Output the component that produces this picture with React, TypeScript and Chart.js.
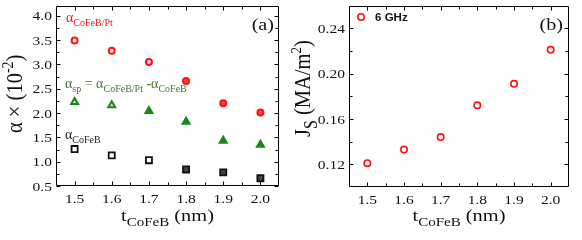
import React, { useEffect, useRef } from 'react';
import { Chart, registerables } from 'chart.js';

Chart.register(...registerables);

// ---------- data ----------
const THICKNESS = [1.5, 1.6, 1.7, 1.8, 1.9, 2.0];
const ALPHA_COFEB_PT = [3.49, 3.28, 3.05, 2.66, 2.2, 2.01];
const ALPHA_SP = [2.23, 2.16, 2.04, 1.82, 1.43, 1.35];
const ALPHA_COFEB = [1.26, 1.13, 1.03, 0.84, 0.78, 0.66];
const JS_6GHZ = [0.121, 0.133, 0.144, 0.172, 0.191, 0.221];

const X_TICKS = [1.5, 1.6, 1.7, 1.8, 1.9, 2.0];
const LEFT_Y_TICKS = [0.5, 1.0, 1.5, 2.0, 2.5, 3.0, 3.5, 4.0];
const RIGHT_Y_TICKS = [0.12, 0.16, 0.2, 0.24];

const SERIF = '"Liberation Serif", "Times New Roman", serif';
const SANS = '"Liberation Sans", Arial, sans-serif';
const RED = '#ff1010';
const GREEN = '#17871a';
const GREEN_TEXT = '#3f7a2e';

type Seg = { t: string; size: number; dy?: number; bold?: boolean; family?: string; color?: string };

function fontOf(s: Seg) {
  return `${s.bold ? 'bold ' : ''}${s.size}px ${s.family || SERIF}`;
}

function drawRich(
  ctx: CanvasRenderingContext2D,
  segs: Seg[],
  x: number,
  y: number,
  o: { color?: string; align?: 'left' | 'center' | 'right'; rotate?: boolean; sx?: number; baseline?: CanvasTextBaseline } = {}
) {
  const { color = '#000', align = 'left', rotate = false, sx = 1, baseline = 'alphabetic' } = o;
  ctx.save();
  ctx.translate(x, y);
  ctx.scale(sx, 1);
  if (rotate) ctx.rotate(-Math.PI / 2);
  ctx.textBaseline = baseline;
  ctx.textAlign = 'left';
  let total = 0;
  const widths = segs.map((s) => {
    ctx.font = fontOf(s);
    const w = ctx.measureText(s.t).width;
    total += w;
    return w;
  });
  let cx = align === 'left' ? 0 : align === 'center' ? -total / 2 : -total;
  segs.forEach((s, i) => {
    ctx.font = fontOf(s);
    ctx.fillStyle = s.color || color;
    ctx.fillText(s.t, cx, s.dy || 0);
    cx += widths[i];
  });
  ctx.restore();
}

function minorsOf(major: number[], min: number, max: number) {
  const step = major[1] - major[0];
  const out: number[] = [];
  for (let i = -1; i < major.length; i++) {
    const v = (i < 0 ? major[0] - step : major[i]) + step / 2;
    if (v > min + 1e-9 && v < max - 1e-9) out.push(v);
  }
  return out;
}

function drawFrameAndTicks(chart: any, xMajor: number[], yMajor: number[]) {
  const { ctx, chartArea: a, scales } = chart;
  const xs = scales.x;
  const ys = scales.y;
  const L = Math.round(a.left) + 0.5;
  const R = Math.round(a.right) - 0.5;
  const T = Math.round(a.top) + 0.5;
  const B = Math.round(a.bottom) - 0.5;
  ctx.save();
  ctx.strokeStyle = '#000';
  ctx.lineWidth = 1;
  ctx.beginPath();
  ctx.rect(L, T, R - L, B - T);
  const xMinor = minorsOf(xMajor, xs.min, xs.max);
  const yMinor = minorsOf(yMajor, ys.min, ys.max);
  const xt = (v: number, len: number) => {
    const p = Math.round(xs.getPixelForValue(v)) + 0.5;
    ctx.moveTo(p, B);
    ctx.lineTo(p, B - len);
    ctx.moveTo(p, T);
    ctx.lineTo(p, T + len);
  };
  const yt = (v: number, len: number) => {
    const p = Math.round(ys.getPixelForValue(v)) + 0.5;
    ctx.moveTo(L, p);
    ctx.lineTo(L + len, p);
    ctx.moveTo(R, p);
    ctx.lineTo(R - len, p);
  };
  xMajor.forEach((v) => xt(v, 4));
  xMinor.forEach((v) => xt(v, 3));
  yMajor.forEach((v) => yt(v, 4));
  yMinor.forEach((v) => yt(v, 3));
  ctx.stroke();
  ctx.restore();
}

function drawTickLabels(chart: any, xFmt: (v: number) => string, yFmt: (v: number) => string) {
  const { ctx, chartArea: a, scales } = chart;
  scales.x.ticks.forEach((t: any) => {
    const p = scales.x.getPixelForValue(t.value);
    drawRich(ctx, [{ t: xFmt(t.value), size: 13.5 }], p, a.bottom + 17, { align: 'center', sx: 1.15, color: '#111' });
  });
  scales.y.ticks.forEach((t: any) => {
    const p = scales.y.getPixelForValue(t.value);
    drawRich(ctx, [{ t: yFmt(t.value), size: 13.5 }], a.left - 4, p + 4.6, { align: 'right', sx: 1.15, color: '#111' });
  });
}

function baseScales(xMin: number, xMax: number, yMin: number, yMax: number, yTicks: number[], yWidth: number, xHeight: number) {
  const hidden = {
    grid: { display: false, drawTicks: false },
    border: { display: false },
    ticks: { display: false },
  };
  return {
    x: {
      type: 'linear',
      min: xMin,
      max: xMax,
      ...hidden,
      afterBuildTicks: (s: any) => {
        s.ticks = X_TICKS.map((v) => ({ value: v }));
      },
      afterFit: (s: any) => {
        s.height = xHeight;
      },
    },
    y: {
      type: 'linear',
      min: yMin,
      max: yMax,
      ...hidden,
      afterBuildTicks: (s: any) => {
        s.ticks = yTicks.map((v) => ({ value: v }));
      },
      afterFit: (s: any) => {
        s.width = yWidth;
      },
    },
  };
}

function xTitle(ctx: CanvasRenderingContext2D, cx: number, y: number) {
  drawRich(
    ctx,
    [
      { t: 't', size: 17 },
      { t: 'CoFeB', size: 12.5, dy: 5 },
      { t: ' (nm)', size: 17 },
    ],
    cx,
    y,
    { align: 'center', sx: 1.2, color: '#111' }
  );
}

function LeftPanel() {
  const ref = useRef<HTMLCanvasElement>(null);
  useEffect(() => {
    const canvas = ref.current!;
    const pts = (ys: number[]) => THICKNESS.map((x, i) => ({ x, y: ys[i] }));
    const plugin = {
      id: 'leftDeco',
      beforeDatasetsDraw(chart: any) {
        drawFrameAndTicks(chart, X_TICKS, LEFT_Y_TICKS);
      },
      afterDraw(chart: any) {
        const ctx = chart.ctx as CanvasRenderingContext2D;
        const a = chart.chartArea;
        drawTickLabels(chart, (v) => v.toFixed(1), (v) => v.toFixed(1));
        xTitle(ctx, (a.left + a.right) / 2, 221);
        // y title
        drawRich(
          ctx,
          [
            { t: 'α × (10', size: 20.5 },
            { t: '-2', size: 14, dy: -8 },
            { t: ')', size: 20.5 },
          ],
          22,
          133,
          { rotate: true, sx: 1.15, color: '#111' }
        );
        // panel label
        drawRich(ctx, [{ t: '(a)', size: 17.5 }], 274, 30, { align: 'right', sx: 1.15, color: '#111' });
        // annotations
        drawRich(
          ctx,
          [
            { t: 'α', size: 14 },
            { t: 'CoFeB/Pt', size: 10, dy: 3.5 },
          ],
          66,
          22,
          { color: RED }
        );
        drawRich(
          ctx,
          [
            { t: 'α', size: 14 },
            { t: 'sp', size: 10, dy: 3.5 },
            { t: ' = α', size: 14 },
            { t: 'CoFeB/Pt', size: 10, dy: 3.5 },
            { t: ' -α', size: 14 },
            { t: 'CoFeB', size: 10, dy: 3.5 },
          ],
          65,
          88,
          { color: GREEN_TEXT }
        );
        drawRich(
          ctx,
          [
            { t: 'α', size: 14 },
            { t: 'CoFeB', size: 10, dy: 3.5 },
          ],
          65,
          139,
          { color: '#222' }
        );
      },
    };
    const chart = new Chart(canvas, {
      type: 'scatter',
      data: {
        datasets: [
          {
            label: 'αCoFeB/Pt',
            data: pts(ALPHA_COFEB_PT),
            pointStyle: 'circle',
            radius: 3,
            borderWidth: 2,
            borderColor: RED,
            backgroundColor: ['#ffffff', '#ffffff', '#ffd0d0', '#ff4a4a', '#ff4a4a', '#ff4a4a'],
          },
          {
            label: 'αsp',
            data: pts(ALPHA_SP),
            pointStyle: 'triangle',
            radius: 4,
            borderWidth: 2,
            borderColor: GREEN,
            backgroundColor: ['#d8eed8', '#d8eed8', GREEN, GREEN, GREEN, GREEN],
          },
          {
            label: 'αCoFeB',
            data: pts(ALPHA_COFEB),
            pointStyle: 'rect',
            radius: 4.3,
            borderWidth: 1.8,
            borderColor: '#111',
            backgroundColor: ['#ffffff', '#ffffff', '#ffffff', '#444444', '#444444', '#444444'],
          },
        ],
      },
      options: {
        animation: false,
        responsive: false,
        maintainAspectRatio: false,
        layout: { padding: { left: 0, right: 12, top: 4, bottom: 0 } },
        plugins: { legend: { display: false }, tooltip: { enabled: false } },
        scales: baseScales(1.45, 2.05, 0.5, 4.2, LEFT_Y_TICKS, 56, 54) as any,
      },
      plugins: [plugin],
    } as any);
    return () => chart.destroy();
  }, []);
  return (
    <canvas
      ref={ref}
      width={291}
      height={240}
      style={{ position: 'absolute', left: 0, top: 0, width: 291, height: 240 }}
    />
  );
}

function RightPanel() {
  const ref = useRef<HTMLCanvasElement>(null);
  useEffect(() => {
    const canvas = ref.current!;
    const plugin = {
      id: 'rightDeco',
      beforeDatasetsDraw(chart: any) {
        drawFrameAndTicks(chart, X_TICKS, RIGHT_Y_TICKS);
      },
      afterDraw(chart: any) {
        const ctx = chart.ctx as CanvasRenderingContext2D;
        const a = chart.chartArea;
        drawTickLabels(chart, (v) => v.toFixed(1), (v) => v.toFixed(2));
        xTitle(ctx, (a.left + a.right) / 2, 221);
        drawRich(
          ctx,
          [
            { t: 'J', size: 20.5 },
            { t: 'S', size: 16, dy: 6 },
            { t: ' (MA/m', size: 20.5 },
            { t: '2', size: 13, dy: -8 },
            { t: ')', size: 20.5 },
          ],
          19,
          137,
          { rotate: true, sx: 1.15, color: '#111' }
        );
        drawRich(ctx, [{ t: '(b)', size: 17.5 }], 272, 30, { align: 'right', sx: 1.15, color: '#111' });
        // legend
        ctx.save();
        ctx.beginPath();
        ctx.arc(70, 17, 3.2, 0, Math.PI * 2);
        ctx.fillStyle = '#fff';
        ctx.fill();
        ctx.lineWidth = 1.6;
        ctx.strokeStyle = RED;
        ctx.stroke();
        ctx.restore();
        drawRich(ctx, [{ t: '6 GHz', size: 10.5, bold: true, family: SANS }], 84, 21, { sx: 1.1, color: '#111' });
      },
    };
    const chart = new Chart(canvas, {
      type: 'scatter',
      data: {
        datasets: [
          {
            label: '6 GHz',
            data: THICKNESS.map((x, i) => ({ x, y: JS_6GHZ[i] })),
            pointStyle: 'circle',
            radius: 3.2,
            borderWidth: 1.6,
            borderColor: RED,
            backgroundColor: '#ffffff',
          },
        ],
      },
      options: {
        animation: false,
        responsive: false,
        maintainAspectRatio: false,
        layout: { padding: { left: 0, right: 13, top: 4, bottom: 0 } },
        plugins: { legend: { display: false }, tooltip: { enabled: false } },
        scales: baseScales(1.45, 2.05, 0.1, 0.26, RIGHT_Y_TICKS, 58, 53) as any,
      },
      plugins: [plugin],
    } as any);
    return () => chart.destroy();
  }, []);
  return (
    <canvas
      ref={ref}
      width={291}
      height={240}
      style={{ position: 'absolute', left: 291, top: 0, width: 291, height: 240 }}
    />
  );
}

export default function App() {
  return (
    <div style={{ position: 'absolute', left: 0, top: 0, width: 582, height: 240, background: '#fff' }}>
      <LeftPanel />
      <RightPanel />
    </div>
  );
}
